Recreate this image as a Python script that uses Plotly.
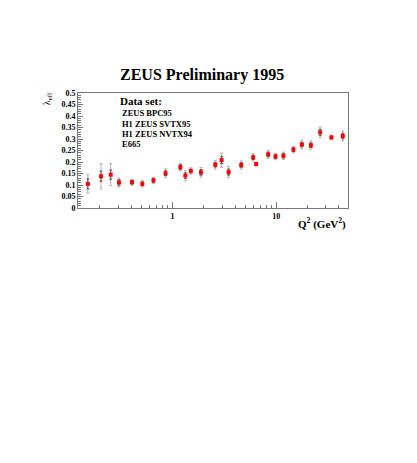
import plotly.graph_objects as go

q2 = [0.153, 0.205, 0.254, 0.305, 0.407, 0.512, 0.656, 0.857, 1.19, 1.33, 1.50, 1.88,
      2.58, 2.97, 3.47, 4.59, 5.98, 6.39, 8.34, 9.82, 11.7, 14.6, 17.6, 21.5, 26.4, 33.9, 43.6]
lam = [0.105, 0.138, 0.145, 0.111, 0.112, 0.105, 0.120, 0.151, 0.178, 0.141, 0.161, 0.155,
       0.188, 0.208, 0.156, 0.187, 0.220, 0.191, 0.233, 0.224, 0.227, 0.254, 0.276, 0.273,
       0.329, 0.307, 0.313]
err_tot = [0.040, 0.055, 0.048, 0.020, 0.013, 0.014, 0.014, 0.019, 0.016, 0.023, 0.014, 0.021,
           0.019, 0.031, 0.024, 0.018, 0.016, 0.009, 0.017, 0.014, 0.016, 0.014, 0.019, 0.019,
           0.023, 0.009, 0.022]
err_stat = [0.022, 0.022, 0.020, 0.012, 0.008, 0.008, 0.008, 0.010, 0.010, 0.012, 0.008, 0.012,
            0.010, 0.015, 0.013, 0.010, 0.009, 0.005, 0.010, 0.008, 0.009, 0.008, 0.010, 0.010,
            0.013, 0.005, 0.012]

title_text = "ZEUS Preliminary 1995"
legend_head = "Data set:"
legend_items = ["ZEUS BPC95", "H1 ZEUS SVTX95", "H1 ZEUS NVTX94", "E665"]

SERIF = "Liberation Serif"

fig = go.Figure()
fig.add_trace(go.Scatter(
    x=q2, y=lam, mode="markers",
    marker=dict(size=0.1, color="rgba(0,0,0,0)"),
    error_y=dict(type="data", array=err_tot, color="#b0b0b0", thickness=1, width=1.5),
    showlegend=False, hoverinfo="skip"))
fig.add_trace(go.Scatter(
    x=q2, y=lam, mode="markers",
    marker=dict(symbol="square", size=4, color="#ff0000"),
    error_y=dict(type="data", array=err_stat, color="#555555", thickness=1, width=1.5),
    showlegend=False))

axis_common = dict(showline=True, linecolor="#777777", linewidth=1, mirror=True,
                   showgrid=False, zeroline=False, ticks="inside", tickcolor="#777777",
                   tickfont=dict(family=SERIF, size=8, color="black", weight="bold"))

fig.update_xaxes(type="log", range=[-0.91, 1.69], dtick=1, ticklen=6,
                 minor=dict(ticks="inside", ticklen=3, dtick="D1", tickcolor="#777777", showgrid=False),
                 **axis_common)
fig.update_yaxes(range=[0, 0.5], dtick=0.05, ticklen=5,
                 minor=dict(ticks="inside", ticklen=2.5, dtick=0.01, tickcolor="#777777", showgrid=False),
                 **axis_common)

ann = []
ann.append(dict(text="<b>" + title_text + "</b>", x=0.461, y=1.157, xref="paper", yref="paper",
                showarrow=False, font=dict(family=SERIF, size=16, color="black"),
                xanchor="center", yanchor="middle"))
ann.append(dict(text="λ<sub>eff</sub>", x=-0.115, y=0.955, xref="paper", yref="paper",
                showarrow=False, textangle=-90, font=dict(family=SERIF, size=10, color="black"),
                xanchor="center", yanchor="middle"))
ann.append(dict(text="<b>Q<sup>2</sup> (GeV<sup>2</sup>)</b>", x=1.0, y=-0.135, xref="paper", yref="paper",
                showarrow=False, font=dict(family=SERIF, size=11, color="black"),
                xanchor="right", yanchor="middle"))
ann.append(dict(text="<b>" + legend_head + "</b>", x=0.148, y=0.928, xref="paper", yref="paper",
                showarrow=False, font=dict(family=SERIF, size=11, color="black"),
                xanchor="left", yanchor="middle"))
for t, yy in zip(legend_items, [0.826, 0.733, 0.643, 0.557]):
    ann.append(dict(text="<b>" + t + "</b>", x=0.157, y=yy, xref="paper", yref="paper",
                    showarrow=False, font=dict(family=SERIF, size=8.5, color="black"),
                    xanchor="left", yanchor="middle"))

fig.update_layout(width=417, height=463, margin=dict(l=70, r=77, t=85, b=263),
                  paper_bgcolor="white", plot_bgcolor="white", annotations=ann,
                  showlegend=False)

fig.write_html("out.html")
